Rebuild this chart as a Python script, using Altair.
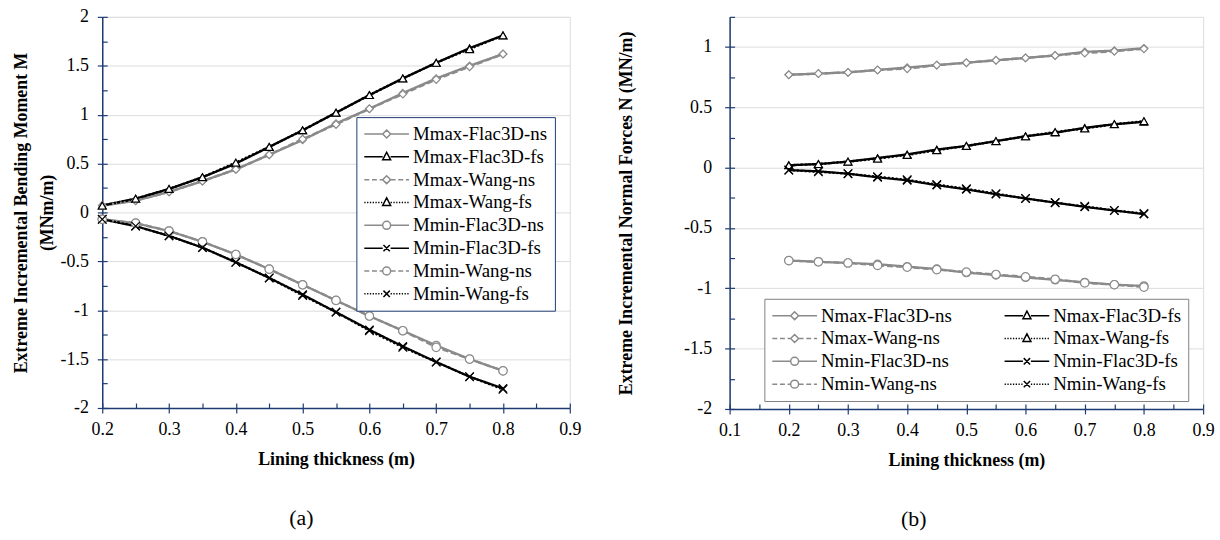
import altair as alt
import pandas as pd

FONT = "Liberation Serif"
NAVY = "#1f3b73"

thickness = [0.2, 0.25, 0.3, 0.35, 0.4, 0.45, 0.5, 0.55, 0.6, 0.65, 0.7, 0.75, 0.8]

# ---------- panel (a): bending moment ----------
m_names = ["Mmax-Flac3D-ns", "Mmax-Flac3D-fs", "Mmax-Wang-ns", "Mmax-Wang-fs",
           "Mmin-Flac3D-ns", "Mmin-Flac3D-fs", "Mmin-Wang-ns", "Mmin-Wang-fs"]
mmax_flac_ns = [0.07, 0.12, 0.21, 0.32, 0.44, 0.59, 0.74, 0.91, 1.06, 1.22, 1.37, 1.50, 1.62]
mmax_flac_fs = [0.07, 0.14, 0.24, 0.36, 0.50, 0.67, 0.84, 1.02, 1.20, 1.37, 1.53, 1.68, 1.81]
mmax_wang_ns = [0.07, 0.12, 0.21, 0.32, 0.44, 0.59, 0.75, 0.90, 1.06, 1.21, 1.36, 1.49, 1.62]
mmax_wang_fs = [0.07, 0.14, 0.24, 0.36, 0.51, 0.67, 0.84, 1.02, 1.20, 1.37, 1.53, 1.67, 1.81]
mmin_flac_ns = [-0.07, -0.11, -0.19, -0.30, -0.43, -0.58, -0.74, -0.90, -1.06, -1.21, -1.36, -1.50, -1.62]
mmin_flac_fs = [-0.07, -0.14, -0.24, -0.36, -0.51, -0.67, -0.84, -1.02, -1.20, -1.37, -1.53, -1.68, -1.80]
mmin_wang_ns = [-0.07, -0.11, -0.19, -0.30, -0.43, -0.58, -0.74, -0.90, -1.06, -1.21, -1.38, -1.50, -1.62]
mmin_wang_fs = [-0.07, -0.14, -0.24, -0.36, -0.51, -0.67, -0.85, -1.02, -1.21, -1.38, -1.53, -1.68, -1.81]
m_series = [mmax_flac_ns, mmax_flac_fs, mmax_wang_ns, mmax_wang_fs,
            mmin_flac_ns, mmin_flac_fs, mmin_wang_ns, mmin_wang_fs]

# ---------- panel (b): normal forces ----------
n_names = ["Nmax-Flac3D-ns", "Nmax-Flac3D-fs", "Nmax-Wang-ns", "Nmax-Wang-fs",
           "Nmin-Flac3D-ns", "Nmin-Flac3D-fs", "Nmin-Wang-ns", "Nmin-Wang-fs"]
nmax_flac_ns = [0.77, 0.78, 0.79, 0.81, 0.83, 0.85, 0.87, 0.89, 0.91, 0.93, 0.96, 0.97, 0.99]
nmax_flac_fs = [0.02, 0.03, 0.05, 0.08, 0.11, 0.15, 0.18, 0.22, 0.26, 0.29, 0.33, 0.36, 0.38]
nmax_wang_ns = [0.77, 0.78, 0.79, 0.81, 0.82, 0.85, 0.87, 0.89, 0.91, 0.93, 0.95, 0.965, 0.985]
nmax_wang_fs = [0.02, 0.03, 0.05, 0.075, 0.105, 0.145, 0.18, 0.22, 0.26, 0.295, 0.325, 0.36, 0.385]
nmin_flac_ns = [-0.77, -0.78, -0.79, -0.80, -0.82, -0.84, -0.87, -0.89, -0.91, -0.93, -0.95, -0.97, -0.98]
nmin_flac_fs = [-0.02, -0.03, -0.05, -0.08, -0.105, -0.145, -0.18, -0.22, -0.255, -0.29, -0.325, -0.355, -0.385]
nmin_wang_ns = [-0.77, -0.78, -0.79, -0.81, -0.825, -0.845, -0.865, -0.885, -0.905, -0.925, -0.955, -0.97, -0.99]
nmin_wang_fs = [-0.02, -0.035, -0.05, -0.075, -0.10, -0.14, -0.175, -0.215, -0.255, -0.29, -0.32, -0.355, -0.38]
n_series = [nmax_flac_ns, nmax_flac_fs, nmax_wang_ns, nmax_wang_fs,
            nmin_flac_ns, nmin_flac_fs, nmin_wang_ns, nmin_wang_fs]

# axis ticks
a_xmajor = [0.2, 0.3, 0.4, 0.5, 0.6, 0.7, 0.8, 0.9]
a_xminor = [0.2, 0.25, 0.3, 0.35, 0.4, 0.45, 0.5, 0.55, 0.6, 0.65, 0.7, 0.75, 0.8, 0.85, 0.9]
a_ymajor = [-2, -1.5, -1, -0.5, 0, 0.5, 1, 1.5, 2]
a_yminor = [-2, -1.75, -1.5, -1.25, -1, -0.75, -0.5, -0.25, 0, 0.25, 0.5, 0.75, 1, 1.25, 1.5, 1.75, 2]
b_xmajor = [0.1, 0.2, 0.3, 0.4, 0.5, 0.6, 0.7, 0.8, 0.9]
b_xminor = [0.1, 0.15, 0.2, 0.25, 0.3, 0.35, 0.4, 0.45, 0.5, 0.55, 0.6, 0.65, 0.7, 0.75, 0.8, 0.85, 0.9]
b_ymajor = [-2, -1.5, -1, -0.5, 0, 0.5, 1]
b_yminor = [-2, -1.75, -1.5, -1.25, -1, -0.75, -0.5, -0.25, 0, 0.25, 0.5, 0.75, 1, 1.25]

# ---------- styles (same order as the names above) ----------
GRAY = "#8a8a8a"
colors = [GRAY, "black", GRAY, "black", GRAY, "black", GRAY, "black"]
dashes = [[1, 0], [1, 0], [6, 3], [2, 2], [1, 0], [1, 0], [6, 3], [2, 2]]
widths = [2.4, 2.2, 1.6, 1.6, 2.4, 2.2, 1.6, 1.6]
XPATH = "M-1,-1L1,1M-1,1L1,-1"
shapes = ["diamond", "triangle-up", "diamond", "triangle-up", "circle", XPATH, "circle", XPATH]
sizes = [55, 75, 55, 75, 70, 60, 70, 60]
line_kinds = ["solid", "solid", "dash", "dot", "solid", "solid", "dash", "dot"]
marker_kinds = ["diamond", "tri", "diamond", "tri", "circle", "x", "circle", "x"]

# legend symbol geometry (unit = 9 px for symbol size 324)
SYM_SIZE = 324
U = 9.0
X0, X1, MC = -1.0, 4.0, 1.5
R = 4.0 / U


def segs(a, b, kind):
    if kind == "solid":
        return f"M{a:.3f},0L{b:.3f},0"
    dash, gap = (5.0 / U, 2.7 / U) if kind == "dash" else (1.3 / U, 1.5 / U)
    out, p = [], a
    while p < b - 1e-6:
        q = min(p + dash, b)
        out.append(f"M{p:.3f},0L{q:.3f},0")
        p = q + gap
    return "".join(out)


def marker(kind):
    r = R
    c = MC
    if kind == "diamond":
        return f"M{c:.3f},{-r:.3f}L{c + r:.3f},0L{c:.3f},{r:.3f}L{c - r:.3f},0Z"
    if kind == "tri":
        return f"M{c:.3f},{-r * 1.15:.3f}L{c + r:.3f},{r * 0.75:.3f}L{c - r:.3f},{r * 0.75:.3f}Z"
    if kind == "circle":
        return (f"M{c + r:.3f},0A{r:.3f},{r:.3f} 0 1,1 {c - r:.3f},0"
                f"A{r:.3f},{r:.3f} 0 1,1 {c + r:.3f},0Z")
    k = r * 0.8
    return f"M{c - k:.3f},{-k:.3f}L{c + k:.3f},{k:.3f}M{c - k:.3f},{k:.3f}L{c + k:.3f},{-k:.3f}"


legend_paths = [segs(X0, MC - R, lk) + segs(MC + R, X1, lk) + marker(mk)
                for lk, mk in zip(line_kinds, marker_kinds)]


def long_df(names, series):
    rows = []
    for name, vals in zip(names, series):
        for xv, yv in zip(thickness, vals):
            rows.append({"series": name, "x": xv, "y": yv})
    return pd.DataFrame(rows)


LABEL_EXPR = "'' + datum.value"


def pick(lst, order):
    return [lst[i] for i in order]


def panel(df, names, order, xdom, xmajor, xminor, ydom, ymajor, yminor, ytitle, ytitlepad,
          ylabelpad, width, height, lx, ly, cols, colpad, lstroke, caption, cap_dx):
    names_o = pick(names, order)
    base = alt.Chart(df)
    xs = alt.Scale(domain=xdom, nice=False, zero=False)
    ys = alt.Scale(domain=ydom, nice=False, zero=False)
    main_x = alt.Axis(values=xmajor, labelExpr=LABEL_EXPR, tickSize=5, labelPadding=8,
                      labelFlush=False,
                      domainColor=NAVY, domainWidth=1.5, tickColor=NAVY, tickWidth=1.2,
                      labelFont=FONT, labelFontSize=18, labelColor="black", grid=False,
                      title="Lining thickness (m)", titleFont=FONT, titleFontSize=18,
                      titleFontWeight="bold", titleColor="black", titlePadding=12)
    main_y = alt.Axis(values=ymajor, labelExpr=LABEL_EXPR, tickSize=5, labelPadding=ylabelpad,
                      labelFlush=False,
                      domainColor=NAVY, domainWidth=1.5, tickColor=NAVY, tickWidth=1.2,
                      labelFont=FONT, labelFontSize=18, labelColor="black", grid=True,
                      gridColor="#dcdcdc", gridWidth=1, title=ytitle, titleFont=FONT,
                      titleFontSize=18, titleFontWeight="bold", titleColor="black",
                      titlePadding=ytitlepad, titleLineHeight=26)
    inner_x = alt.Axis(orient="bottom", offset=-5, values=xminor, tickSize=5, labels=False,
                       domain=False, grid=False, tickColor=NAVY, tickWidth=1.2, title=None)
    inner_y = alt.Axis(orient="left", offset=-5, values=yminor, tickSize=5, labels=False,
                       domain=False, grid=False, tickColor=NAVY, tickWidth=1.2, title=None)
    lines = base.mark_line().encode(
        x=alt.X("x:Q", scale=xs, axis=main_x),
        y=alt.Y("y:Q", scale=ys, axis=main_y),
        color=alt.Color("series:N", scale=alt.Scale(domain=names, range=colors), legend=None),
        strokeDash=alt.StrokeDash("series:N", scale=alt.Scale(domain=names, range=dashes), legend=None),
        strokeWidth=alt.StrokeWidth("series:N", scale=alt.Scale(domain=names, range=widths), legend=None),
        order="x:Q",
    )
    points = base.mark_point(filled=False, fill="white", opacity=1, strokeWidth=1.2).encode(
        x=alt.X("x:Q", scale=xs, axis=inner_x),
        y=alt.Y("y:Q", scale=ys, axis=inner_y),
        color=alt.Color("series:N", scale=alt.Scale(domain=names, range=colors), legend=None),
        shape=alt.Shape("series:N", scale=alt.Scale(domain=names, range=shapes), legend=None),
        size=alt.Size("series:N", scale=alt.Scale(domain=names, range=sizes), legend=None),
    )
    leg = alt.Legend(title=None, orient="none", legendX=lx, legendY=ly, columns=cols,
                     columnPadding=colpad, rowPadding=3, padding=7, strokeColor=lstroke,
                     fillColor="white", labelFont=FONT, labelFontSize=19, labelColor="black",
                     labelLimit=400, labelOffset=30, symbolSize=SYM_SIZE, symbolStrokeWidth=1.5,
                     symbolOpacity=1)
    legend_layer = base.transform_filter("false").mark_point(
        filled=False, opacity=1, size=SYM_SIZE, strokeWidth=1.5).encode(
        color=alt.Color("series:N", scale=alt.Scale(domain=names_o, range=pick(colors, order)),
                        legend=leg),
        shape=alt.Shape("series:N", scale=alt.Scale(domain=names_o, range=pick(legend_paths, order)),
                        legend=leg),
    )
    return alt.layer(lines, points, legend_layer).resolve_scale(
        color="independent", shape="independent", size="independent"
    ).resolve_axis(x="independent", y="independent").properties(
        width=width, height=height,
        title=alt.TitleParams(caption, orient="bottom", anchor="middle", font=FONT,
                              fontSize=22, fontWeight="normal", color="black", offset=40, dx=cap_dx),
    )


left = panel(long_df(m_names, m_series), m_names, [0, 1, 2, 3, 4, 5, 6, 7], [0.2, 0.9],
             a_xmajor, a_xminor, [-2, 2], a_ymajor, a_yminor,
             ["Extreme Incremental Bending Moment M", "(MNm/m)"], 4, 9,
             471, 394, 256, 101, 1, 20, NAVY, "(a)", -35)
right = panel(long_df(n_names, n_series), n_names, [0, 2, 4, 6, 1, 3, 5, 7], [0.1, 0.9],
              b_xmajor, b_xminor, [-2, 1.25], b_ymajor, b_yminor,
              "Extreme Incremental Normal Forces N (MN/m)", 48, 13,
              477, 395, 35, 284, 2, 50, "#808080", "(b)", -53)

chart = alt.hconcat(left, right, spacing=36).resolve_scale(
    color="independent", shape="independent", strokeDash="independent",
    strokeWidth="independent", size="independent"
).properties(background="white", padding={"left": 12, "top": 5, "right": 5, "bottom": 5}).configure_view(
    stroke=NAVY, strokeWidth=1.5
).configure(font=FONT)

chart.save("out.html", embed_options={"renderer": "svg", "actions": False})
